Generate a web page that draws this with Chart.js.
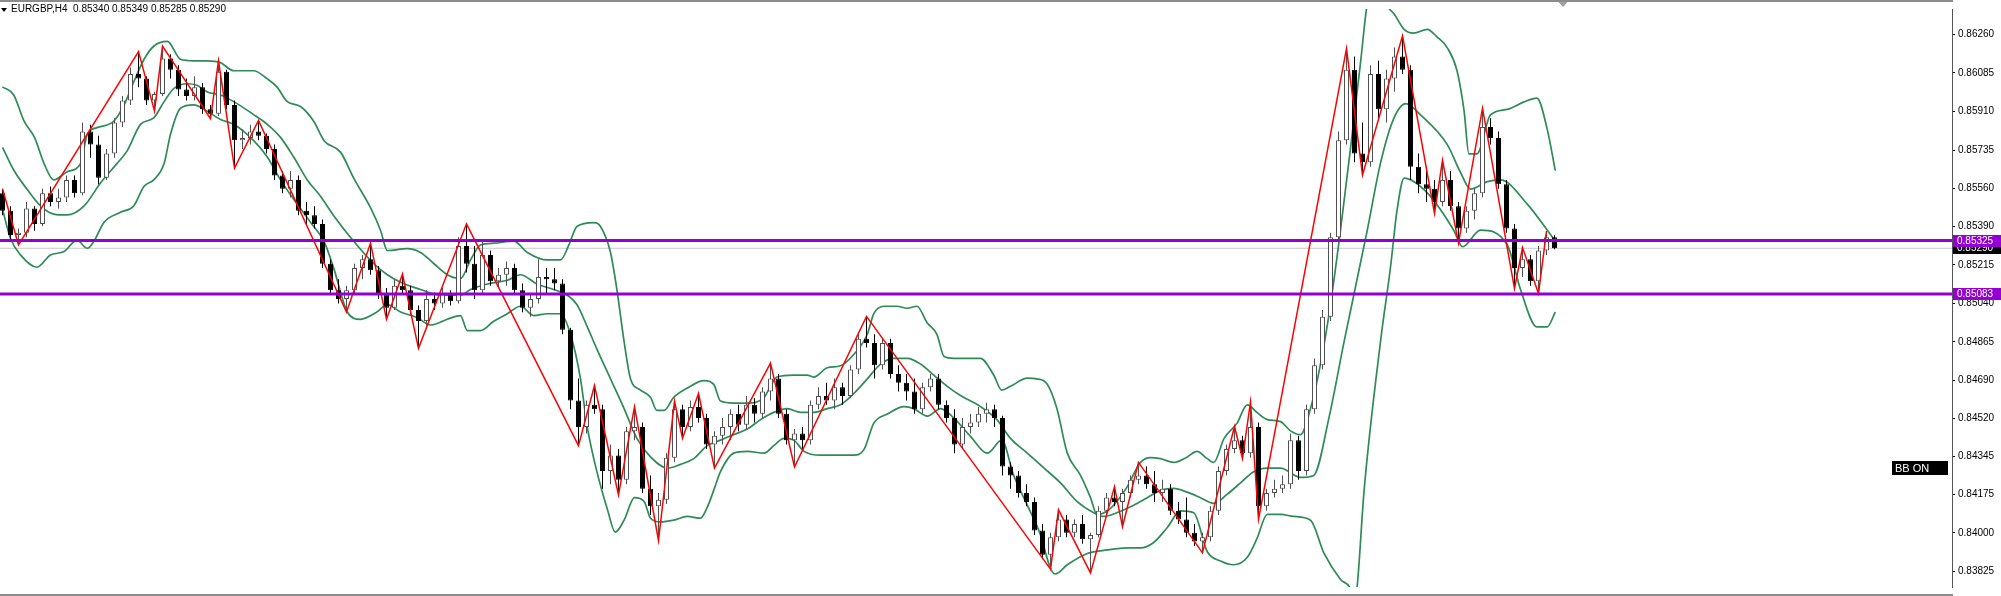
<!DOCTYPE html>
<html>
<head>
<meta charset="utf-8">
<script src="https://cdn.jsdelivr.net/npm/chart.js@4.4.1/dist/chart.umd.min.js"></script>
<style>
html, body { margin: 0; padding: 0; background: #fff; overflow: hidden; }
#graficoEurGbp { display: block; }
</style>
</head>
<body>
<canvas id="graficoEurGbp" width="2001" height="596" style="width:2001px;height:596px"></canvas>
<script>
// all prices are written in points (1e-5), divided by PONTO when plotted
const PONTO = 100000;
const simbolo = 'EURGBP,H4';
const ultimaBarra = ['0.85340', '0.85349', '0.85285', '0.85290'];

const aberturas = [
85540,85460,85350,85360,85470,85400,85540,85500,85520,85600,85540,85820,85760,85610,85720,85860,85960,86080,86060,85960,
85990,86150,86100,86010,85980,86020,85920,85900,86090,85940,85780,85790,85820,85800,85740,85620,85560,85600,85460,85440,
85400,85220,85100,85060,85100,85200,85240,85190,85080,85020,85120,85100,85010,84960,85060,85040,85080,85050,85300,85220,
85100,85260,85140,85170,85200,85100,85020,85060,85160,85150,85130,84920,84600,84480,84580,84560,84280,84350,84240,84460,
84480,84200,84120,84150,84340,84560,84480,84570,84520,84400,84440,84480,84540,84490,84580,84540,84640,84700,84540,84420,
84450,84420,84580,84620,84600,84660,84620,84740,84880,84860,84760,84860,84720,84680,84640,84560,84660,84700,84580,84520,
84400,84480,84500,84540,84560,84520,84300,84260,84180,84140,84010,83900,83980,84060,84000,84040,83970,83990,84100,84160,
84140,84180,84240,84260,84220,84180,84200,84100,84060,84000,83960,83980,84100,84280,84380,84420,84360,84480,84120,84180,
84200,84220,84420,84280,84560,84760,84980,85340,85780,86100,85720,85680,86080,85920,86060,86160,86100,85660,85580,85560,
85500,85600,85480,85380,85460,85540,85840,85790,85580,85380,85200,85240,85140,85280,85340];
const maximas = [
85560,85480,85380,85500,85480,85560,85570,85560,85620,85620,85860,85850,85800,85740,85880,85980,86110,86182,86070,86000,
86207,86170,86120,86060,86070,86040,85940,86140,86100,85960,85830,85850,85870,85810,85760,85640,85640,85620,85500,85480,
85420,85240,85150,85120,85220,85260,85313,85210,85110,85150,85173,85120,85030,85100,85090,85110,85100,85340,85401,85300,
85320,85280,85200,85230,85220,85130,85080,85240,85200,85200,85150,84930,84700,84600,84668,84580,84400,84380,84480,84572,
84500,84260,84180,84360,84597,84580,84600,84631,84540,84460,84520,84560,84580,84620,84610,84660,84769,84720,84560,84470,
84480,84600,84660,84680,84700,84680,84760,84900,84981,84900,84880,84880,84760,84720,84700,84680,84720,84720,84600,84560,
84520,84540,84570,84590,84580,84530,84320,84280,84220,84160,84040,84000,84104,84080,84060,84080,84000,84120,84180,84209,
84200,84260,84319,84300,84280,84240,84220,84140,84160,84040,84000,84120,84300,84400,84482,84440,84593,84500,84200,84240,
84260,84450,84440,84580,84790,85010,85360,85820,86195,86160,85860,86120,86140,86100,86200,86253,86120,85720,85660,85600,
85689,85640,85500,85480,85560,85925,85880,85820,85600,85400,85293,85260,85300,85368,85349];
const minimas = [
85440,85330,85305,85340,85370,85390,85480,85470,85500,85520,85530,85700,85580,85600,85700,85840,85940,86020,85940,85912,
85980,86060,85980,85960,85960,85900,85878,85890,85920,85654,85740,85760,85780,85720,85600,85540,85520,85440,85400,85380,
85200,85080,85040,85001,85080,85150,85170,85060,84968,85010,85080,84990,84836,84940,85010,85020,85030,85040,85180,85060,
85080,85120,85110,85120,85080,85000,84980,85040,85080,85100,84900,84560,84395,84450,84540,84200,84220,84172,84220,84420,
84180,84080,83965,84130,84320,84428,84460,84500,84380,84293,84400,84420,84460,84470,84500,84520,84600,84520,84400,84298,
84380,84400,84560,84580,84560,84580,84610,84720,84840,84700,84740,84700,84640,84600,84540,84540,84640,84560,84500,84360,
84380,84450,84480,84500,84480,84260,84200,84160,84120,83990,83880,83835,83960,83980,83980,83950,83818,83980,84080,84120,
84027,84160,84220,84200,84140,84140,84080,84040,83980,83940,83909,83960,84080,84260,84360,84336,84340,84061,84100,84160,
84180,84200,84240,84260,84540,84740,84960,85320,85760,85680,85622,85660,85880,85860,86000,86080,85600,85540,85500,85448,
85480,85460,85313,85360,85420,85520,85760,85560,85360,85107,85160,85120,85085,85260,85285];
const fechamentos = [
85460,85350,85360,85470,85400,85540,85500,85520,85600,85540,85820,85760,85610,85720,85860,85960,86080,86060,85960,85990,
86150,86100,86010,85980,86020,85920,85900,86090,85940,85780,85790,85820,85800,85740,85620,85560,85600,85460,85440,85400,
85220,85100,85060,85100,85200,85240,85190,85080,85020,85120,85100,85010,84960,85060,85040,85080,85050,85300,85220,85100,
85260,85140,85170,85200,85100,85020,85060,85160,85150,85130,84920,84600,84480,84580,84560,84280,84350,84240,84460,84480,
84200,84120,84150,84340,84560,84480,84570,84520,84400,84440,84480,84540,84490,84580,84540,84640,84700,84540,84420,84450,
84420,84580,84620,84600,84660,84620,84740,84880,84860,84760,84860,84720,84680,84640,84560,84660,84700,84580,84520,84400,
84480,84500,84540,84560,84520,84300,84260,84180,84140,84010,83900,83980,84060,84000,84040,83970,83990,84100,84160,84140,
84180,84240,84260,84220,84180,84200,84100,84060,84000,83960,83980,84100,84280,84380,84420,84360,84480,84120,84180,84200,
84220,84420,84280,84560,84760,84980,85340,85780,86100,85720,85680,86080,85920,86060,86160,86100,85660,85580,85560,85500,
85600,85480,85380,85460,85540,85840,85790,85580,85380,85200,85240,85140,85280,85340,85290];

// ZigZag turning points: bar index and price
const zigzagBarra = [0,2,17,19,20,26,27,29,32,43,46,48,50,52,58,72,74,77,79,82,84,85,87,89,96,99,108,131,132,136,139,140,142,150,154,155,156,157,168,170,175,179,180,182,185,189,190,192,193];
const zigzagPreco = [85560,85305,86182,85912,86207,85878,86140,85654,85870,85001,85313,84968,85173,84836,85401,84395,84668,84172,84572,83965,84597,84428,84631,84293,84769,84298,84981,83835,84104,83818,84209,84027,84319,83909,84482,84336,84593,84061,86195,85622,86253,85448,85689,85313,85925,85107,85293,85085,85368];

// Bollinger bands (bar position, price)
const bandaSupX = [0,1.4,2.7,4,5.2,6.4,8.1,9.75,10.6,11.8,13.9,15.2,16.4,17.7,18.9,20.6,22.25,23.9,25.6,27.25,28.9,31.4,33.1,34.3,35.6,37.25,38.9,40.2,42.25,43.9,46,47.25,48.1,50.6,52.25,53.9,55.6,57.25,58.5,59.75,61.4,63.9,65.6,68.1,69.75,70.8,71.8,73.9,74.75,76,76.8,77.7,78.5,79.75,81,81.8,82.7,83.9,85.6,87.7,88.9,89.75,91.4,93.1,95.2,96,96.8,98.9,100.6,101.4,103.1,104.75,106.4,108.1,108.9,110.2,111.8,113.1,114.3,115.6,116.8,117.7,118.9,120.6,122.25,123.9,124.9,126,128.1,129.3,130.6,131.8,133.1,134.75,136,136.8,138.1,139.3,140.6,142.25,143.5,144.75,146.4,148.1,149.3,150.6,151.4,152.7,154.3,155.6,156.8,158.1,159.75,161,162.25,163.5,164.75,166,167.25,168.5,169.75,170.6,171.8,173.1,174,175.2,176.4,178.1,179.3,180.6,181.8,182.7,183.3,184.3,186,188.1,190.2,191.8,193.1,194.1];
const bandaSupY = [86022,85985,85866,85793,85674,85600,85637,85674,85807,85837,85866,85940,86044,86147,86206,86228,86147,86140,86140,86132,86095,86095,86058,86022,85955,85933,85866,85778,85726,85608,85474,85372,85280,85288,85271,85221,85170,85153,85237,85305,85313,85322,85271,85237,85237,85305,85389,85406,85389,85271,85103,84867,84698,84647,84614,84555,84555,84614,84656,84690,84673,84597,84588,84588,84614,84664,84706,84715,84715,84706,84748,84757,84808,84900,84993,85027,85027,85018,85027,84951,84900,84799,84791,84791,84791,84715,84647,84664,84701,84698,84673,84563,84361,84260,84159,84083,84099,84142,84209,84319,84341,84336,84319,84344,84369,84336,84319,84428,84496,84580,84546,84513,84504,84462,84445,84563,84765,85035,85372,85743,86131,86400,86520,86390,86350,86283,86266,86283,86249,86199,86097,85912,85718,85718,85895,85920,85954,85971,85828,85642];
const bandaMedX = [0,1.4,3.1,4.75,6.4,8.1,10.2,12.25,14.3,15.6,17.25,18.9,20.2,21.4,23.1,24.3,25.6,27.25,28.9,31.4,33.1,34.75,36.4,38.1,39.75,41.4,43.9,46.4,48.1,49.75,52.25,54.75,57.25,58.5,60.6,63.1,64.75,66.8,68.9,70.6,71.8,73.1,74.3,76,77.7,79.3,81,83.1,84.75,86.4,88.1,89.75,91.4,93.1,94.75,96.4,98.1,99.75,101.4,103.1,104.75,106.4,108.1,109.75,111.4,113.1,114.75,116.4,118.1,119.75,122.25,124.3,126,128.1,130.2,132.25,134.3,136.4,137.7,139.3,141.4,143.1,144.75,146.4,148.1,149.75,151.4,153.1,154.75,156.4,158.1,159.75,162.25,163.9,165.8,167.7,170.6,172.25,173.9,175.4,177.25,180.6,182.25,183.5,185.6,187.25,190.6,193.1,194.1];
const bandaMedY = [85748,85645,85556,85482,85445,85441,85482,85586,85674,85733,85852,85881,85955,86014,86036,86029,85999,85985,85955,85896,85852,85793,85704,85600,85526,85438,85322,85221,85170,85136,85103,85077,85077,85103,85128,85145,85170,85128,85103,85077,85035,84934,84833,84698,84563,84428,84344,84293,84310,84336,84395,84420,84445,84470,84513,84546,84563,84546,84546,84563,84580,84631,84698,84765,84791,84791,84765,84715,84664,84622,84572,84513,84428,84361,84293,84226,84142,84091,84074,84091,84125,84159,84192,84201,84184,84159,84133,84175,84226,84277,84293,84293,84251,84260,84520,84867,85372,85676,85878,85946,85895,85760,85634,85558,85592,85600,85490,85372,85322];
const bandaInfX = [0,1,2.25,4.3,6,7.7,9.3,10.6,11.4,12.7,14.75,16.4,17.7,18.9,20.2,21,22.25,23.9,25.6,27.25,28.9,31.4,33.1,34.75,36.4,38.5,40.2,41.4,43.1,44.75,46.8,48.1,49.75,51.8,53.5,55.6,57.25,58.1,59.75,61.4,63.1,64.75,66.4,68.1,69.75,71,72.25,73.1,74.3,75.6,76.6,77.7,79,80.2,81,82.25,83.9,85.6,87.25,88.1,88.9,89.75,91.4,93.1,95.2,96.4,97.7,98.9,100.2,102.25,104.75,106.4,107.7,108.9,110.6,112.7,113.9,115.6,117.25,118.9,121,123.1,124.9,126.4,128.1,129.75,131,131.6,133.1,135.6,138.1,140.6,142.25,143.9,145.6,147.25,148.9,150.6,152.25,153.9,155.6,156.8,158.1,159.75,161.4,163.5,165.2,167.25,168.5,168.9,169.3,170.2,172.25,173.5,174.3,175.2,178.1,181.4,182.5,184.75,188.1,189.75,191.8,193.1,194.1];
const bandaInfY = [85467,85334,85260,85204,85260,85275,85327,85290,85320,85408,85453,85482,85571,85600,85674,85807,85925,85940,85911,85874,85852,85778,85704,85600,85512,85408,85320,85200,85001,84968,85001,85035,85001,84976,84942,84968,84985,84917,84917,84959,84993,85027,84985,84993,84993,84900,84698,84479,84277,84108,84003,84057,84159,84142,84066,84049,84057,84074,84066,84116,84192,84277,84361,84369,84361,84395,84428,84420,84369,84352,84352,84352,84378,84496,84538,84572,84563,84529,84563,84521,84437,84361,84420,84260,84125,83990,83838,83813,83855,83906,83922,83931,83931,83956,84024,84099,84091,83914,83872,83855,83889,83973,84083,84083,84074,84057,83906,83788,83745,83690,83745,84192,84867,85204,85457,85608,85541,85372,85297,85372,85305,85103,84934,84934,85001];

// horizontal levels and bid
const niveisRoxos = [85325, 85083];
const precoBid = 85290;

// right price scale labels
const ticksPreco = [0.86260,0.86085,0.85910,0.85735,0.85560,0.85390,0.85215,0.85040,0.84865,0.84690,0.84520,0.84345,0.84175,0.84000,0.83825];

const FONTE = '"Liberation Sans", Arial, sans-serif';
const VERDE = '#2e8b57';
const ROXO = '#9400d3';
const CINZA_ALTA = '#505050';
const X_MIN = -0.3125, X_MAX = 243.6875;

const pontos = (xs, ys) => xs.map((x, i) => ({ x: x, y: ys[i] / PONTO }));
const alta = aberturas.map((o, i) => fechamentos[i] >= o);

const pavios = aberturas.map((o, i) => ({ x: i, y: [minimas[i] / PONTO, maximas[i] / PONTO] }));
const corpos = aberturas.map((o, i) => ({ x: i, y: [o / PONTO, fechamentos[i] / PONTO] }));

const linhaHorizontal = (v) => [{ x: X_MIN - 1, y: v / PONTO }, { x: X_MAX + 1, y: v / PONTO }];

const linhaBanda = (dados) => ({
    type: 'line', data: dados, borderColor: VERDE, borderWidth: 1.7,
    pointRadius: 0, cubicInterpolationMode: 'monotone', order: 5
});

const decoracaoMT4 = {
    id: 'decoracaoMT4',
    afterDraw(chart) {
        const ctx = chart.ctx;
        const area = chart.chartArea;
        const y = chart.scales.y;
        const w = chart.width;
        ctx.save();
        // frame
        ctx.fillStyle = '#8c8c8c';
        ctx.fillRect(0, 0, area.right + 1, 2);
        ctx.fillRect(0, 594, area.right + 1, 2);

        ctx.font = '10px ' + FONTE;
        ctx.textBaseline = 'middle';
        ctx.textAlign = 'left';

        // bid tag
        const yb = y.getPixelForValue(precoBid / PONTO);
        ctx.fillStyle = '#000';
        ctx.fillRect(area.right + 1, Math.round(yb) - 5, w - area.right - 1, 11);
        ctx.fillStyle = '#fff';
        ctx.fillText((precoBid / PONTO).toFixed(5), area.right + 5, Math.round(yb) + 0.5);

        // purple level tags
        niveisRoxos.forEach(v => {
            const yp = Math.round(y.getPixelForValue(v / PONTO));
            ctx.fillStyle = ROXO;
            ctx.fillRect(area.right + 1, yp - 6, w - area.right - 1, 12);
            ctx.fillStyle = '#fff';
            ctx.fillText((v / PONTO).toFixed(5), area.right + 5, yp + 0.5);
        });

        // BB ON tag
        ctx.fillStyle = '#000';
        ctx.fillRect(1892, 461, 56, 14);
        ctx.fillStyle = '#fff';
        ctx.font = '11px ' + FONTE;
        ctx.fillText('BB ON', 1895, 468.5);

        // title
        ctx.fillStyle = '#000';
        ctx.beginPath();
        ctx.moveTo(1, 8); ctx.lineTo(7, 8); ctx.lineTo(4, 12); ctx.closePath();
        ctx.fill();
        ctx.font = '10px ' + FONTE;
        ctx.fillText(simbolo + '  ' + ultimaBarra.join(' '), 11, 9.5);

        // chart shift marker
        const xs = chart.scales.x.getPixelForValue(aberturas.length - 0.5);
        ctx.fillStyle = '#a0a0a0';
        ctx.beginPath();
        ctx.moveTo(xs, 2); ctx.lineTo(xs + 9, 2); ctx.lineTo(xs + 4.5, 7); ctx.closePath();
        ctx.fill();
        ctx.restore();
    }
};

const configGrafico = {
    type: 'bar',
    data: {
        datasets: [
            {
                type: 'line', data: linhaHorizontal(niveisRoxos[0]), borderColor: ROXO,
                borderWidth: 3, pointRadius: 0, order: 0
            },
            {
                type: 'line', data: linhaHorizontal(niveisRoxos[1]), borderColor: ROXO,
                borderWidth: 3, pointRadius: 0, order: 0
            },
            {
                type: 'line', data: pontos(zigzagBarra, zigzagPreco), borderColor: '#ff0000',
                borderWidth: 1.5, pointRadius: 0, tension: 0, order: 1
            },
            {
                data: corpos, barThickness: 5, grouped: false, inflateAmount: 0,
                backgroundColor: alta.map(a => a ? '#ffffff' : '#000000'),
                borderColor: alta.map(a => a ? CINZA_ALTA : '#000000'),
                borderWidth: 1, borderSkipped: false, order: 2
            },
            {
                data: pavios, barThickness: 1, grouped: false, inflateAmount: 0,
                backgroundColor: alta.map(a => a ? CINZA_ALTA : '#000000'),
                borderWidth: 0, order: 3
            },
            linhaBanda(pontos(bandaSupX, bandaSupY)),
            linhaBanda(pontos(bandaMedX, bandaMedY)),
            linhaBanda(pontos(bandaInfX, bandaInfY)),
            {
                type: 'line', data: linhaHorizontal(precoBid), borderColor: '#c8c8c8',
                borderWidth: 1, pointRadius: 0, order: 6
            }
        ]
    },
    options: {
        responsive: false,
        animation: false,
        devicePixelRatio: 1,
        layout: { padding: { top: 2, bottom: 3, left: 0, right: 0 } },
        plugins: {
            legend: { display: false },
            tooltip: { enabled: false }
        },
        scales: {
            x: {
                type: 'linear', min: X_MIN, max: X_MAX, offset: false,
                display: false, grid: { display: false }
            },
            y: {
                type: 'linear', position: 'right',
                min: 0.83754, max: 0.86375,
                afterFit(scale) { scale.width = 49; },
                afterBuildTicks(scale) { scale.ticks = ticksPreco.map(v => ({ value: v })); },
                ticks: {
                    autoSkip: false, padding: 3, color: '#000',
                    font: { family: FONTE, size: 10 },
                    callback: v => Number(v).toFixed(5)
                },
                grid: { drawOnChartArea: false, drawTicks: true, tickLength: 3, color: '#000' },
                border: { display: true, color: '#555', width: 1 }
            }
        }
    },
    plugins: [decoracaoMT4]
};

const instanciaGrafico = new Chart(document.getElementById('graficoEurGbp'), configGrafico);
</script>
</body>
</html>
